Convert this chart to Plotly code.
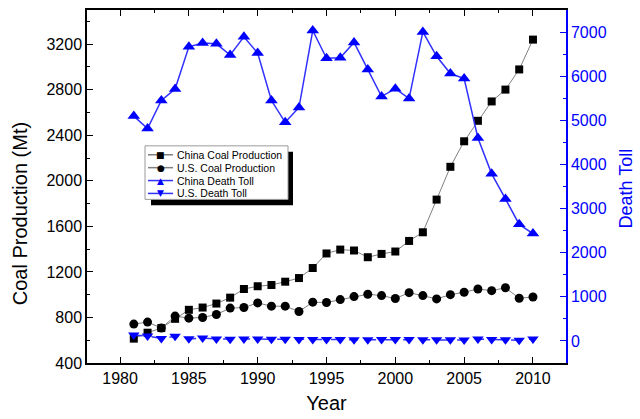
import plotly.graph_objects as go

# Annual coal output (Mt) and coal-mining fatalities, China vs. U.S.
years = list(range(1981, 2011))
china_coal = [614, 666, 707, 788, 867, 887, 922, 974, 1050, 1074, 1085, 1114, 1146, 1234, 1362,
              1396, 1388, 1329, 1358, 1379, 1472, 1548, 1835, 2123, 2347, 2527, 2697, 2801, 2978, 3240]
us_coal = [742, 759, 707, 812, 794, 800, 826, 882, 887, 928, 899, 899, 852, 934, 931,
           957, 983, 1004, 992, 966, 1018, 992, 963, 1000, 1021, 1050, 1035, 1061, 969, 980]
china_deaths = [5095, 4812, 5448, 5710, 6667, 6750, 6734, 6480, 6891, 6525, 5448, 4954, 5290, 7035, 6406,
                6420, 6765, 6150, 5538, 5717, 5493, 7003, 6451, 6061, 5948, 4600, 3787, 3219, 2642, 2433]
us_deaths = [135, 110, 55, 105, 50, 65, 45, 40, 45, 45, 40, 40, 35, 35, 35,
             30, 25, 25, 30, 30, 30, 25, 25, 25, 20, 45, 30, 25, 15, 45]

series_names = ["China Coal Production", "U.S. Coal Production", "China Death Toll", "U.S. Death Toll"]

FONT = "Arial, Liberation Sans, sans-serif"
BLUE = "#0000ff"
BLUE_LINE = "#3030ff"
GRAY_LINE = "#808080"

W, H = 640, 419
ML, MR, MT, MB = 87, 74, 8, 55

fig = go.Figure()
fig.add_trace(go.Scatter(x=years, y=china_coal, name=series_names[0], mode="lines+markers",
                         line=dict(color=GRAY_LINE, width=1),
                         marker=dict(symbol="square", size=8, color="black")))
fig.add_trace(go.Scatter(x=years, y=us_coal, name=series_names[1], mode="lines+markers",
                         line=dict(color=GRAY_LINE, width=1),
                         marker=dict(symbol="circle", size=9, color="black")))
fig.add_trace(go.Scatter(x=years, y=china_deaths, name=series_names[2], mode="lines+markers", yaxis="y2",
                         line=dict(color=BLUE_LINE, width=1.5),
                         marker=dict(symbol="triangle-up", size=11, color=BLUE)))
fig.add_trace(go.Scatter(x=years, y=us_deaths, name=series_names[3], mode="lines+markers", yaxis="y2",
                         line=dict(color=BLUE_LINE, width=1.5, dash="dash"),
                         marker=dict(symbol="triangle-down", size=10, color=BLUE)))


def px_x(p):
    return (p - ML) / (W - ML - MR)


def px_y(p):
    return (H - MB - p) / (H - MT - MB)


# Hand-drawn legend box with a drop shadow
shapes = [
    dict(type="rect", xref="paper", yref="paper", x0=px_x(151), x1=px_x(293), y0=px_y(205), y1=px_y(151),
         fillcolor="black", line=dict(width=0), layer="above"),
    dict(type="rect", xref="paper", yref="paper", x0=px_x(145), x1=px_x(288), y0=px_y(199), y1=px_y(145),
         fillcolor="white", line=dict(color="#9a9a9a", width=1), layer="above"),
]
annotations = []
legend_rows = [154, 167, 180, 193]
glyphs = [("■", "black", GRAY_LINE, 9), ("●", "black", GRAY_LINE, 9),
          ("▲", BLUE, BLUE_LINE, 9), ("▼", BLUE, BLUE_LINE, 9)]
for row, name, (g, gc, lc, gs) in zip(legend_rows, series_names, glyphs):
    shapes.append(dict(type="line", xref="paper", yref="paper", x0=px_x(148), x1=px_x(173),
                       y0=px_y(row), y1=px_y(row), line=dict(color=lc, width=1.5), layer="above"))
    annotations.append(dict(xref="paper", yref="paper", x=px_x(160.5), y=px_y(row), text=g, showarrow=False,
                            xanchor="center", yanchor="middle", font=dict(family="DejaVu Sans", size=gs, color=gc)))
    annotations.append(dict(xref="paper", yref="paper", x=px_x(175), y=px_y(row), text=name, showarrow=False,
                            xanchor="left", yanchor="middle", font=dict(family=FONT, size=10.5, color="black")))

# Axis titles
annotations.append(dict(xref="paper", yref="paper", x=px_x(20), y=px_y(214), text="Coal Production (Mt)",
                        textangle=-90, showarrow=False, xanchor="center", yanchor="middle",
                        font=dict(family=FONT, size=20, color="black")))
annotations.append(dict(xref="paper", yref="paper", x=px_x(626), y=px_y(188), text="Death Toll",
                        textangle=-90, showarrow=False, xanchor="center", yanchor="middle",
                        font=dict(family=FONT, size=18, color=BLUE)))

fig.update_layout(
    width=W, height=H,
    margin=dict(l=ML, r=MR, t=MT, b=MB),
    paper_bgcolor="white", plot_bgcolor="white",
    showlegend=False,
    font=dict(family=FONT, size=16, color="black"),
    shapes=shapes,
    annotations=annotations,
    xaxis=dict(range=[1977.6, 2012.4], tick0=1980, dtick=5, ticks="inside", ticklen=6, tickwidth=1,
               tickcolor="black", showline=True, linecolor="black", linewidth=1.5, mirror="ticks",
               showgrid=False, zeroline=False,
               minor=dict(dtick=2.5, tick0=1980, ticks="inside", ticklen=3, tickcolor="black", showgrid=False),
               tickfont=dict(size=16),
               title=dict(text="Year", font=dict(size=20), standoff=10)),
    yaxis=dict(range=[400, 3500], tick0=400, dtick=400, ticks="inside", ticklen=6, tickcolor="black",
               showline=True, linecolor="black", linewidth=1.5, showgrid=False, zeroline=False,
               minor=dict(dtick=200, tick0=400, ticks="inside", ticklen=3, tickcolor="black", showgrid=False),
               tickfont=dict(size=16)),
    yaxis2=dict(range=[-500, 7500], tick0=0, dtick=1000, overlaying="y", side="right", ticks="inside",
                ticklen=6, tickcolor=BLUE, showline=True, linecolor=BLUE, linewidth=1.5,
                showgrid=False, zeroline=False,
                minor=dict(dtick=500, tick0=0, ticks="inside", ticklen=3, tickcolor=BLUE, showgrid=False),
                tickfont=dict(size=16, color=BLUE)),
)

fig.write_html("out.html")
